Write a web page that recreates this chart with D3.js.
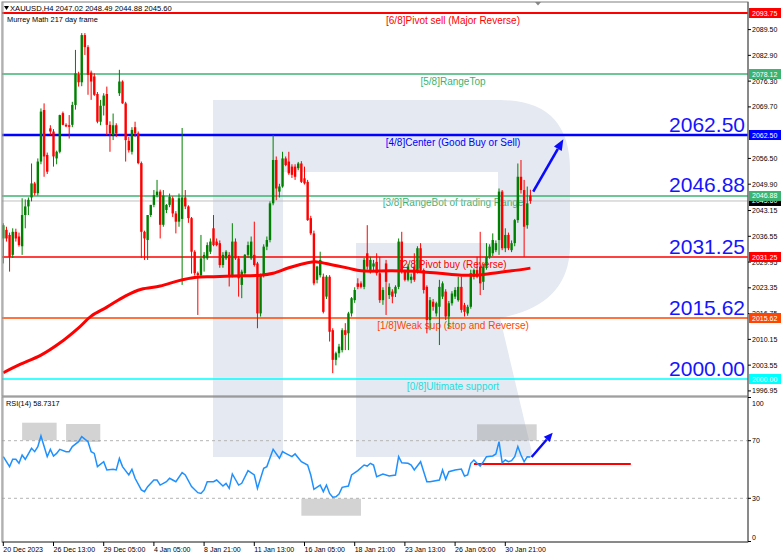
<!DOCTYPE html>
<html><head><meta charset="utf-8">
<script src="https://cdn.jsdelivr.net/npm/d3@7"></script>
<style>body{margin:0;background:#fff;} svg{display:block;font-family:"Liberation Sans",Arial,sans-serif;}</style>
</head><body><svg id="c" width="782" height="558"></svg>
<script>
// ---------- DATA ----------
const symbol = "XAUUSD,H4";
const indicatorName = "Murrey Math 217 day frame";
// [open, high, low, close] per H4 bar
const ohlc = [
[2036.0,2039.9,2029.6,2039.4],[2038.2,2039.0,2035.2,2036.0],[2036.9,2037.5,2027.5,2031.3],[2031.8,2038.6,2031.0,2037.7],
[2037.7,2038.5,2035.2,2036.0],[2036.5,2037.5,2033.9,2034.3],[2034.0,2046.3,2031.8,2042.0],[2042.0,2046.0,2038.6,2044.2],
[2044.2,2046.5,2042.0,2045.9],[2046.5,2055.2,2045.5,2050.1],[2050.1,2050.5,2047.0,2047.6],[2047.6,2056.5,2047.0,2055.7],
[2055.7,2069.3,2055.0,2068.5],[2068.9,2070.6,2051.8,2057.0],[2057.4,2058.0,2052.5,2053.1],[2064.2,2065.0,2062.5,2063.4],
[2063.4,2064.0,2054.4,2057.0],[2056.5,2058.5,2055.0,2058.2],[2058.2,2067.7,2057.8,2067.6],[2068.1,2068.5,2065.0,2065.1],
[2065.1,2065.5,2064.5,2064.7],[2065.0,2067.6,2061.6,2064.6],[2065.1,2071.0,2064.5,2070.2],[2070.2,2084.3,2069.0,2078.3],
[2078.0,2078.7,2074.9,2076.0],[2076.0,2088.6,2075.0,2088.1],[2088.1,2088.6,2083.0,2085.0],[2085.0,2085.5,2072.8,2077.9],
[2078.5,2079.0,2071.5,2076.2],[2077.5,2078.3,2072.5,2072.8],[2073.0,2073.5,2065.5,2065.9],[2065.9,2071.5,2065.0,2070.0],
[2070.0,2073.2,2067.5,2072.6],[2073.0,2074.9,2062.5,2065.1],[2065.1,2066.0,2058.2,2062.9],[2062.5,2068.0,2061.2,2065.0],
[2065.0,2065.5,2062.0,2062.9],[2073.2,2079.2,2072.5,2076.2],[2076.2,2076.5,2070.5,2070.6],[2070.6,2071.0,2055.7,2061.2],
[2061.0,2062.0,2058.0,2058.6],[2058.2,2064.5,2057.5,2063.8],[2064.5,2065.9,2062.0,2062.9],[2062.9,2063.4,2055.0,2055.3],
[2055.3,2055.7,2031.0,2037.7],[2037.7,2038.0,2030.5,2036.0],[2035.6,2042.0,2030.5,2042.0],[2042.0,2044.6,2041.5,2044.6],
[2044.6,2048.4,2044.0,2047.1],[2047.1,2051.0,2046.5,2048.0],[2048.0,2048.5,2036.0,2039.5],[2039.5,2048.4,2039.0,2047.0],
[2043.3,2044.8,2042.5,2044.6],[2044.6,2047.5,2044.0,2046.7],[2046.3,2046.8,2041.5,2042.4],[2042.4,2043.0,2037.3,2040.3],
[2040.3,2047.5,2039.0,2046.3],[2041.0,2064.3,2024.1,2046.5],[2046.5,2048.4,2043.5,2044.2],[2044.2,2044.5,2040.0,2041.2],
[2041.2,2041.5,2027.0,2032.6],[2032.6,2033.0,2026.5,2027.1],[2027.1,2027.5,2016.4,2026.6],[2026.6,2036.9,2026.0,2030.9],
[2030.9,2032.5,2027.5,2031.8],[2030.9,2035.0,2030.5,2034.3],[2032.6,2036.0,2032.0,2035.2],[2038.6,2042.0,2034.0,2034.3],
[2035.2,2036.0,2034.0,2034.3],[2034.8,2035.5,2028.5,2029.2],[2029.2,2032.5,2028.5,2031.8],[2030.9,2033.0,2030.5,2032.6],
[2031.8,2032.5,2023.7,2026.6],[2026.6,2039.9,2026.0,2035.2],[2035.2,2036.0,2030.5,2030.9],[2030.9,2031.5,2021.1,2025.8],
[2024.1,2028.0,2020.7,2027.5],[2027.1,2032.0,2026.5,2031.8],[2031.8,2035.2,2031.0,2034.3],[2030.9,2036.5,2030.5,2035.2],
[2031.8,2040.3,2028.8,2029.2],[2029.6,2030.0,2013.0,2016.8],[2016.8,2027.0,2016.0,2026.6],[2026.6,2034.5,2026.0,2033.9],
[2033.9,2036.5,2033.0,2035.6],[2035.6,2045.5,2035.0,2045.0],[2045.0,2062.5,2044.5,2056.1],[2056.1,2057.0,2045.8,2048.8],
[2048.0,2050.0,2046.5,2049.3],[2049.3,2058.2,2049.0,2056.5],[2056.5,2057.0,2054.5,2054.8],[2055.7,2058.2,2052.3,2052.7],
[2054.4,2055.0,2051.5,2052.3],[2054.4,2055.0,2051.0,2051.8],[2054.0,2055.6,2053.5,2055.2],[2055.2,2055.8,2050.2,2050.5],
[2051.4,2054.4,2049.8,2050.1],[2050.5,2051.0,2040.5,2040.7],[2041.2,2041.8,2036.9,2037.3],[2037.3,2038.0,2024.0,2024.5],
[2025.4,2029.0,2024.5,2028.8],[2026.6,2032.6,2026.0,2030.5],[2026.2,2027.0,2016.8,2017.2],[2021.1,2026.6,2020.5,2026.2],
[2026.2,2026.6,2009.6,2012.1],[2012.5,2013.0,2001.5,2004.9],[2004.9,2007.0,2003.5,2006.6],[2006.6,2009.0,2005.5,2008.3],
[2007.4,2013.0,2006.8,2012.5],[2012.5,2014.3,2007.4,2011.3],[2011.7,2017.2,2007.4,2016.8],[2016.8,2021.0,2016.0,2020.7],
[2020.2,2023.5,2019.5,2022.8],[2024.5,2025.8,2023.0,2023.6],[2024.5,2025.0,2023.2,2023.6],[2023.6,2031.0,2023.0,2030.5],
[2032.2,2039.4,2028.0,2028.8],[2027.9,2031.3,2027.0,2030.5],[2028.8,2030.5,2027.5,2029.6],[2030.0,2032.2,2026.5,2027.1],
[2027.1,2031.3,2019.5,2020.2],[2020.2,2023.5,2019.0,2022.8],[2029.6,2030.5,2016.4,2024.9],[2021.5,2024.5,2020.5,2023.6],
[2022.4,2023.0,2019.4,2021.1],[2021.9,2024.0,2021.0,2023.6],[2023.6,2036.0,2023.0,2035.2],[2035.2,2037.7,2027.0,2027.5],
[2027.5,2028.0,2025.0,2025.4],[2025.4,2029.5,2025.0,2028.8],[2025.4,2027.0,2024.5,2026.2],[2028.8,2032.2,2024.9,2025.4],
[2027.5,2034.0,2027.0,2033.5],[2033.5,2034.8,2027.5,2027.9],[2027.9,2028.3,2021.9,2022.8],[2023.6,2024.0,2011.7,2015.1],
[2015.1,2021.0,2012.5,2020.2],[2019.8,2020.5,2017.5,2018.5],[2016.8,2019.8,2016.0,2019.4],[2018.5,2025.4,2008.7,2023.6],
[2021.1,2025.0,2020.5,2024.5],[2022.4,2023.0,2015.1,2016.0],[2016.0,2020.0,2013.0,2019.4],[2019.4,2022.5,2018.8,2021.9],
[2021.1,2023.5,2020.5,2022.8],[2020.2,2026.2,2019.8,2023.6],[2023.6,2026.2,2017.0,2017.7],[2018.9,2019.5,2016.0,2017.2],
[2016.8,2019.0,2016.2,2018.5],[2018.5,2028.0,2018.0,2027.1],[2026.2,2028.3,2025.5,2027.9],[2027.9,2031.3,2025.8,2026.2],
[2028.8,2037.7,2021.5,2024.5],[2024.9,2029.5,2022.8,2028.8],[2028.8,2034.8,2028.0,2031.3],[2031.3,2034.5,2030.8,2033.9],
[2032.2,2037.3,2031.5,2035.6],[2033.0,2035.5,2032.5,2034.8],[2035.6,2048.8,2031.8,2048.0],[2048.0,2048.4,2033.0,2033.5],
[2033.5,2038.6,2032.5,2036.9],[2036.9,2037.5,2033.0,2033.5],[2033.0,2035.5,2032.5,2034.8],[2034.8,2041.0,2034.0,2040.7],
[2040.7,2055.2,2040.0,2051.8],[2051.8,2056.1,2047.5,2048.4],[2048.4,2051.0,2031.3,2039.0],[2039.4,2049.3,2038.5,2045.0],
[2047.02,2048.49,2044.88,2045.60]
];
const maIdx = [0,5,12,18,24,28,33,39,44,50,56,61,67,73,82,86,91,97,100,105,110,114,124,133,139,146,151,156,162,168];
const maVal = [2001.6,2003.6,2006.1,2009.2,2013.1,2016.1,2018.4,2021.3,2023.0,2023.8,2025.2,2026.0,2026.2,2026.4,2026.6,2027.1,2028.5,2029.8,2030.0,2029.2,2028.4,2027.7,2027.7,2027.5,2027.1,2026.6,2026.6,2027.1,2027.7,2028.4];
const levelVals = [2093.75,2078.12,2062.50,2046.88,2031.25,2015.62,2000.00];
const levelNames = ["[6/8]Pivot sell (Major Reverse)","[5/8]RangeTop","[4/8]Center (Good Buy or Sell)","[3/8]RangeBot of trading Range","[2/8]Pivot buy (Reverse)","[1/8]Weak sup (stop and Reverse)","[0/8]Ultimate support"];
const bigLabelVals = [2062.50,2046.88,2031.25,2015.62,2000.00];
const lastPrice = 2045.60;
const priceTicks = [2089.50,2082.90,2076.30,2069.70,2056.50,2049.90,2043.15,2036.55,2029.95,2023.35,2016.75,2010.15,2003.55,1996.95];
const rsiName = "RSI(14)";
const rsiLast = 58.7317;
const rsiIdx = [0,2,3,4,5,6,7,9,10,11,12,14,15,16,17,18,20,21,22,24,25,27,28,29,30,32,33,35,36,37,38,40,41,42,44,45,46,48,49,50,52,53,54,55,57,58,60,62,63,64,65,67,68,70,71,72,73,75,76,78,80,81,83,84,86,88,89,90,92,93,95,97,98,99,101,102,103,104,105,106,107,108,110,111,113,115,116,117,118,119,121,123,125,126,127,129,130,131,133,134,135,136,139,140,141,142,144,146,147,148,149,150,151,152,153,154,156,157,158,159,160,161,162,163,164,165,166,167,168];
const rsiVal = [58.9,52.0,57.1,57.1,54.3,60.1,57.1,64.7,62.4,65.9,73.3,58.9,64.0,59.4,61.2,64.0,62.4,62.4,65.9,69.3,72.8,69.3,62.4,61.2,52.0,55.4,49.7,50.1,49.7,57.7,52.0,46.2,50.1,43.9,35.8,34.6,38.1,42.7,42.7,39.2,41.5,43.9,42.7,41.5,47.8,46.2,38.1,33.9,33.4,35.8,41.5,41.5,42.7,38.5,40.4,36.9,46.9,39.2,40.4,49.2,46.2,36.9,50.8,52.0,64.0,57.8,62.4,61.2,58.9,60.8,55.4,53.1,46.2,36.2,39.2,34.6,39.2,33.4,30.7,31.1,33.0,37.6,38.5,46.2,49.2,53.1,52.4,54.3,53.1,45.0,46.9,45.5,46.2,58.9,54.7,54.3,53.1,49.7,55.4,48.5,41.5,41.5,42.7,49.7,43.2,48.5,49.7,50.3,45.5,46.2,54.3,56.6,54.3,52.4,55.4,58.9,59.4,60.8,69.3,54.7,56.6,55.4,56.1,58.9,65.9,60.1,55.4,58.9,58.73];
const rsiTicks = [100,70,30,0];
const rsiLevels = [70,30];
const xTickIdx = [0,16,32,48,64,80,96,112,128,144,160];
const xTickLabels = ["20 Dec 2023","26 Dec 13:00","29 Dec 05:00","4 Jan 05:00","8 Jan 21:00","11 Jan 13:00","16 Jan 05:00","18 Jan 21:00","23 Jan 13:00","26 Jan 05:00","30 Jan 21:00"];
// annotations in data units: [i0, i1, rsiTop, rsiBottom]
const rsiBoxes = [[6,17,82.5,70.3],[20,30.9,81.6,69.1],[95,114,29.7,17.9],[151,170,81.4,70.0]];
const rsiSupport = [150,200,53.8];
const rsiArrow = [168.4,58.7,175.1,75.6];
const priceArrow = [168.9,2048.0,178.5,2061.4];

// ---------- LAYOUT ----------
const svg = d3.select("#c");
const L=2, R=748, mTop=2, mBot=396, rTop=397, rBot=542;
const x = d3.scaleLinear().domain([0,160]).range([3.3,505.3]);
const y = d3.scaleLinear().domain([levelVals[0], levelVals[6]]).range([13,379]);
const yr = d3.scaleLinear().domain([100,0]).range([397.5,541.5]);
const levelColors = ["#ff0000","#3cb371","#0000ff","#3cb371","#ff0000","#ff4500","#00ffff"];
const levelWidths = [2,1.5,2.5,1.5,1.5,1.5,1.5];

svg.append("rect").attr("width",782).attr("height",558).attr("fill","#fff");
const defs = svg.append("defs");
defs.append("clipPath").attr("id","cm").append("rect").attr("x",L).attr("y",mTop).attr("width",R-L).attr("height",mBot-mTop);
defs.append("clipPath").attr("id","cr").append("rect").attr("x",L).attr("y",rTop).attr("width",R-L).attr("height",rBot-rTop);

// watermark logo
svg.append("path")
  .attr("d","M213,100 L500,100 Q570,100 570,170 L570,245 Q570,305 500,318 L533,457 L356,457 L356,243 L498,243 L498,172 L283,172 L283,457 L213,457 Z")
  .attr("fill","#e4e9f2");

const gm = svg.append("g").attr("clip-path","url(#cm)");
// level lines
levelVals.forEach((v,k)=>{
  gm.append("line").attr("x1",L).attr("x2",R).attr("y1",y(v)).attr("y2",y(v))
    .attr("stroke",levelColors[k]).attr("stroke-width",levelWidths[k]);
  gm.append("text").attr("x",453).attr("y",y(v)+10.5).attr("text-anchor","middle")
    .attr("font-size",10).attr("fill",levelColors[k]==="#00ffff"?"#22dddd":levelColors[k]).text(levelNames[k]);
});
// current price line
gm.append("line").attr("x1",L).attr("x2",R).attr("y1",y(lastPrice)).attr("y2",y(lastPrice))
  .attr("stroke","#c0c0c0").attr("stroke-width",1);

// candles
const cg = gm.append("g");
ohlc.forEach((d,i)=>{
  const [o,h,l,c]=d; const col = c>=o ? "#008000" : "#ff0000";
  const cx = x(i);
  cg.append("line").attr("x1",cx).attr("x2",cx).attr("y1",y(h)).attr("y2",y(l)).attr("stroke",col).attr("stroke-width",1);
  const top = Math.min(y(o),y(c)), hgt = Math.max(1, Math.abs(y(o)-y(c)));
  cg.append("rect").attr("x",cx-1.2).attr("y",top).attr("width",2.4).attr("height",hgt).attr("fill",col);
});
// moving average
gm.append("path").datum(maIdx.map((d,k)=>[d,maVal[k]]))
  .attr("d",d3.line().x(d=>x(d[0])).y(d=>y(d[1])).curve(d3.curveCatmullRom))
  .attr("fill","none").attr("stroke","#ff0000").attr("stroke-width",3);

// big level labels
bigLabelVals.forEach(v=>{
  gm.append("text").attr("x",745).attr("y",y(v)-3.5).attr("text-anchor","end")
    .attr("font-size",21).attr("fill","#1414ff").text(v.toFixed(2));
});

function arrow(g,x1,y1,x2,y2,color,w,hl,hw){
  const a=Math.atan2(y2-y1,x2-x1);
  const bx=x2-hl*Math.cos(a), by=y2-hl*Math.sin(a);
  g.append("line").attr("x1",x1).attr("y1",y1).attr("x2",bx).attr("y2",by).attr("stroke",color).attr("stroke-width",w);
  const px=-Math.sin(a)*hw/2, py=Math.cos(a)*hw/2;
  g.append("path").attr("d",`M${x2},${y2}L${bx+px},${by+py}L${bx-px},${by-py}Z`).attr("fill",color);
}
arrow(gm,x(priceArrow[0]),y(priceArrow[1]),x(priceArrow[2]),y(priceArrow[3]),"#0a0aff",2.6,11,9);

// header
gm.append("path").attr("d","M4,6 L9,6 L6.5,10 Z").attr("fill","#000");
gm.append("text").attr("x",10).attr("y",11).attr("font-size",7.6).attr("fill","#000")
  .text(symbol+"  "+ohlc[ohlc.length-1].map(v=>v.toFixed(2)).join(" "));
gm.append("text").attr("x",7).attr("y",22).attr("font-size",7.4).attr("fill","#000").text(indicatorName);
// shift marker
svg.append("path").attr("d","M535,2 L541,2 L538,5.5 Z").attr("fill","#888");

// ---------- RSI ----------
const gr = svg.append("g").attr("clip-path","url(#cr)");
rsiLevels.forEach(v=>{
  gr.append("line").attr("x1",L).attr("x2",R).attr("y1",yr(v)).attr("y2",yr(v))
    .attr("stroke","#b4b4b4").attr("stroke-width",1).attr("stroke-dasharray","3,3");
});
rsiBoxes.forEach(b=>{
  gr.append("rect").attr("x",x(b[0])).attr("y",yr(b[2])).attr("width",x(b[1])-x(b[0])).attr("height",yr(b[3])-yr(b[2]))
    .attr("fill","#969696").attr("opacity",0.42);
});
gr.append("line").attr("x1",x(rsiSupport[0])).attr("x2",x(rsiSupport[1])).attr("y1",yr(rsiSupport[2])).attr("y2",yr(rsiSupport[2]))
  .attr("stroke","#ff0000").attr("stroke-width",2);
gr.append("path").datum(rsiIdx.map((d,k)=>[d,rsiVal[k]]))
  .attr("d",d3.line().x(d=>x(d[0])).y(d=>yr(d[1])))
  .attr("fill","none").attr("stroke","#1e90ff").attr("stroke-width",1.5);
arrow(gr,x(rsiArrow[0]),yr(rsiArrow[1]),x(rsiArrow[2]),yr(rsiArrow[3]),"#0a0aff",2.4,9,8);
gr.append("text").attr("x",6).attr("y",406).attr("font-size",7.3).attr("fill","#000").text(rsiName+" "+rsiLast);

// ---------- FRAMES & AXES ----------
svg.append("rect").attr("x",L).attr("y",mTop).attr("width",R-L).attr("height",mBot-mTop).attr("fill","none").attr("stroke","#808080");
svg.append("rect").attr("x",L).attr("y",rTop).attr("width",R-L).attr("height",rBot-rTop).attr("fill","none").attr("stroke","#808080");
svg.append("line").attr("x1",L+1).attr("x2",L+1).attr("y1",mTop).attr("y2",rBot).attr("stroke","#a0a0a0");
svg.append("line").attr("x1",R).attr("x2",R).attr("y1",mTop).attr("y2",rBot).attr("stroke","#555");
svg.append("line").attr("x1",L).attr("x2",R).attr("y1",rBot).attr("y2",rBot).attr("stroke","#555");

const ax = svg.append("g").attr("font-size",7).attr("fill","#000");
priceTicks.forEach(v=>{
  ax.append("line").attr("x1",R).attr("x2",R+3).attr("y1",y(v)).attr("y2",y(v)).attr("stroke","#000");
  ax.append("text").attr("x",752).attr("y",y(v)+2.5).text(v.toFixed(2));
});
// price boxes
const boxList = [[2093.75,"#ff0000"],[2078.12,"#3cb371"],[2062.50,"#0000ff"],[lastPrice,"#000000"],[2046.88,"#3cb371"],[2031.25,"#ff0000"],[2015.62,"#ff4500"],[2000.00,"#00ffff"]];
boxList.forEach(([v,col])=>{
  ax.append("rect").attr("x",749).attr("y",y(v)-5).attr("width",32).attr("height",10).attr("fill",col);
  ax.append("text").attr("x",752).attr("y",y(v)+2.5).attr("fill","#fff").text(v.toFixed(2));
});
rsiTicks.forEach(v=>{
  const ty = v===100 ? yr(v)+6 : (v===0 ? yr(v)-4.5 : yr(v));
  ax.append("line").attr("x1",R).attr("x2",R+3).attr("y1",yr(v)).attr("y2",yr(v)).attr("stroke","#000");
  ax.append("text").attr("x",752).attr("y",ty+2.5).text(v);
});
xTickIdx.forEach((d,k)=>{
  ax.append("line").attr("x1",x(d)).attr("x2",x(d)).attr("y1",rBot).attr("y2",rBot+4).attr("stroke","#000");
  ax.append("text").attr("x",x(d)).attr("y",552).text(xTickLabels[k]);
});
</script>
</body></html>
